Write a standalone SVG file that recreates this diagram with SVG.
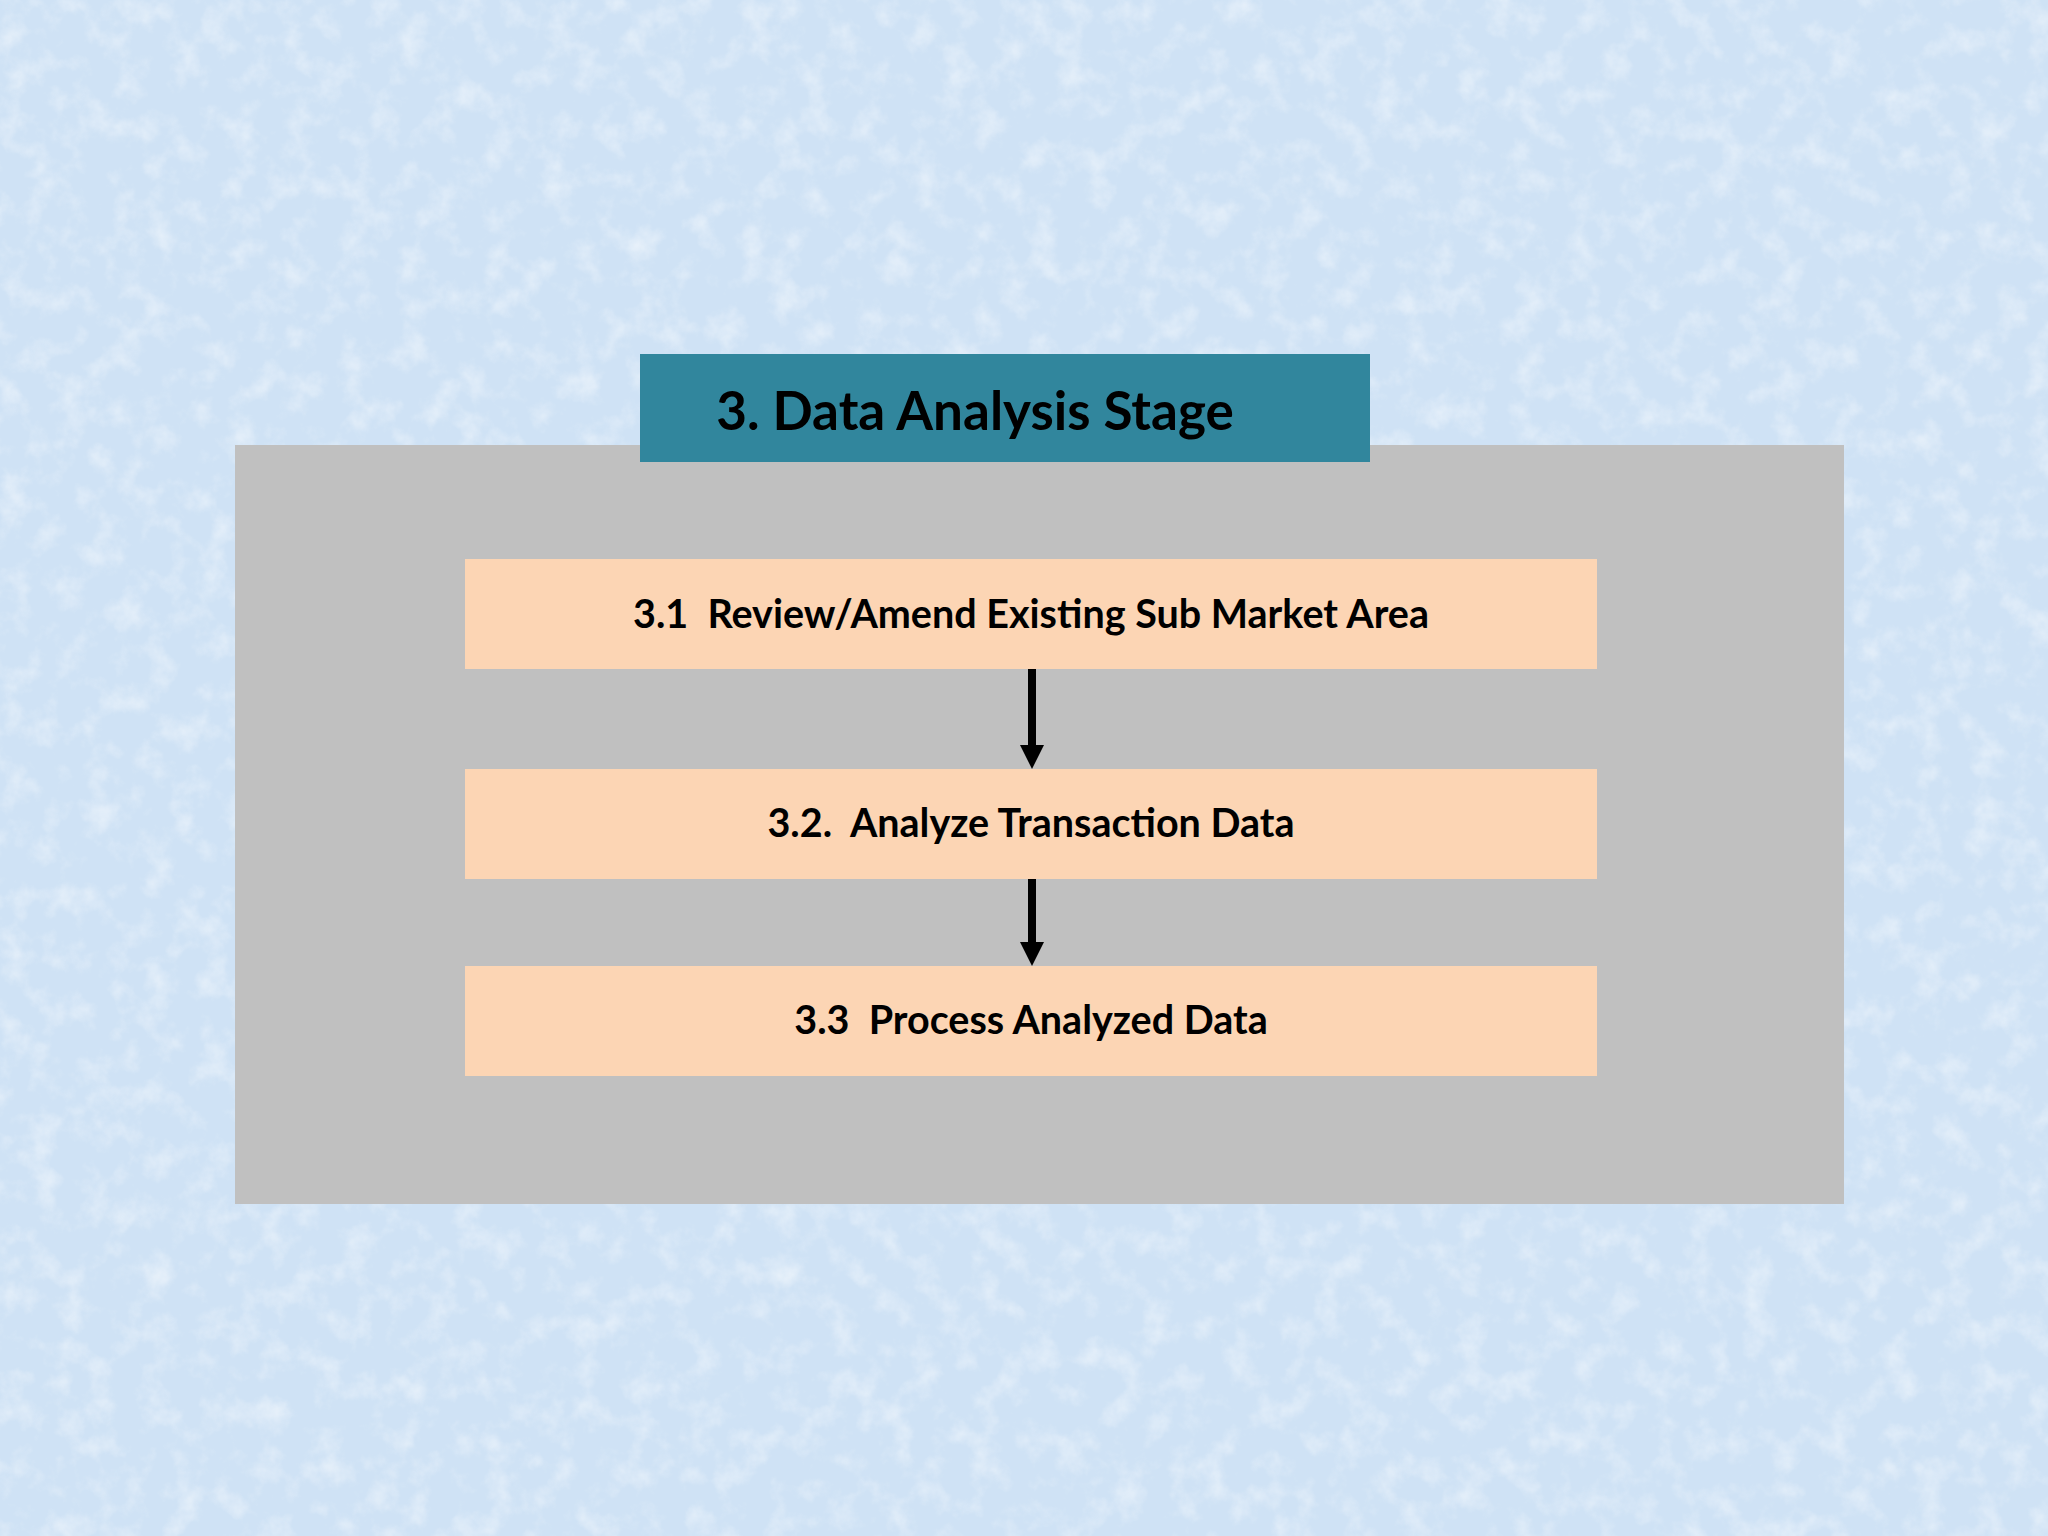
<svg xmlns="http://www.w3.org/2000/svg" width="2048" height="1536" viewBox="0 0 2048 1536">
<defs>
<filter id="tex" x="0" y="0" width="100%" height="100%">
<feTurbulence type="fractalNoise" baseFrequency="0.035" numOctaves="4" seed="3" result="n"/>
<feColorMatrix in="n" type="matrix" values="0 0 0 0 1  0 0 0 0 1  0 0 0 0 1  0 0 0 1.4 -0.65"/>
</filter>
<marker id="ah" viewBox="0 0 10 10" refX="0" refY="5" markerWidth="3" markerHeight="3" markerUnits="strokeWidth" orient="auto">
<path d="M0,0 L10,5 L0,10 z" fill="#000"/>
</marker>
<style>
.lbl{font-family:Lato,"Liberation Sans",sans-serif;font-weight:bold;fill:#000;text-anchor:middle}
.step{fill:#fcd5b4}
.conn{stroke:#000;stroke-width:8;fill:none}
</style>
</defs>
<rect x="0" y="0" width="2048" height="1536" fill="#cfe2f5"/>
<rect x="0" y="0" width="2048" height="1536" filter="url(#tex)" opacity="0.7"/>
<g id="stage-panel">
<rect x="235" y="445" width="1609" height="759" fill="#c0c0c0"/>
</g>
<g id="title">
<rect x="640" y="354" width="730" height="108" fill="#31869d"/>
<text class="lbl" x="975" y="430" font-size="53">3. Data Analysis Stage</text>
</g>
<g id="step-3-1">
<rect class="step" x="465" y="559" width="1132" height="110"/>
<text class="lbl" x="1031" y="628" font-size="39.5" xml:space="preserve">3.1  Review/Amend Existing Sub Market Area</text>
</g>
<g id="step-3-2">
<rect class="step" x="465" y="769" width="1132" height="110"/>
<text class="lbl" x="1031" y="837" font-size="39.5" xml:space="preserve">3.2.  Analyze Transaction Data</text>
</g>
<g id="step-3-3">
<rect class="step" x="465" y="966" width="1132" height="110"/>
<text class="lbl" x="1031" y="1034" font-size="39.5" xml:space="preserve">3.3  Process Analyzed Data</text>
</g>
<g id="connectors">
<line class="conn" x1="1032" y1="669" x2="1032" y2="745" marker-end="url(#ah)"/>
<line class="conn" x1="1032" y1="879" x2="1032" y2="942" marker-end="url(#ah)"/>
</g>
</svg>
